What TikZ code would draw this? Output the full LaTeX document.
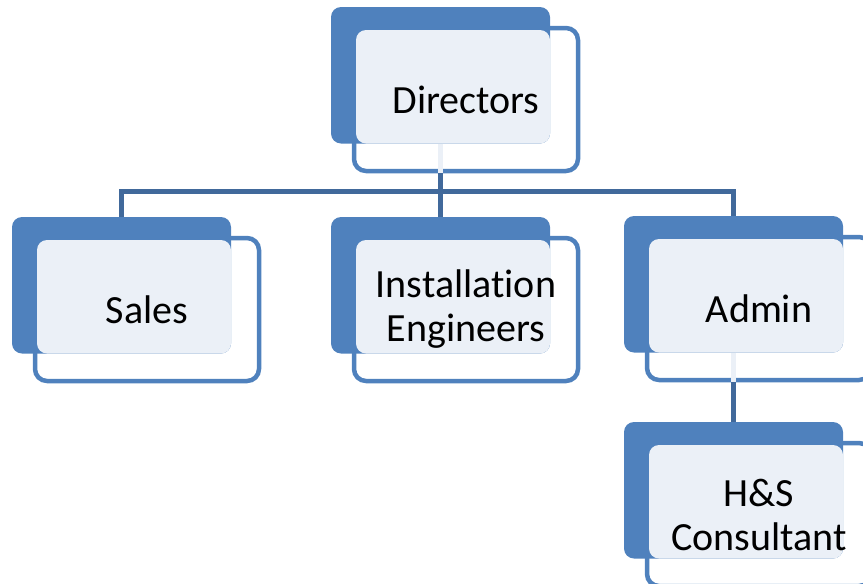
\documentclass[tikz,border=0pt]{standalone}
\usepackage{fontspec}
\setmainfont[RawFeature=-liga]{Carlito}
\usepackage{tikz}
\usetikzlibrary{positioning}
\definecolor{boxblue}{HTML}{4F81BD}
\definecolor{boxlight}{HTML}{EBF0F7}
\definecolor{linkblue}{HTML}{41699B}

\begin{document}
\begin{tikzpicture}[x=1pt, y=-1pt,
    frontbox/.style={draw=boxblue, line width=4.5pt, fill=white, rounded corners=12pt, minimum width=224pt, minimum height=143pt, inner sep=0pt},
    backbox/.style={fill=boxblue, rounded corners=10pt, minimum width=219pt, minimum height=136.5pt, inner sep=0pt},
    boxtext/.style={align=center, font=\fontsize{40}{44}\selectfont, text=black},
    link/.style={draw=linkblue, line width=5pt},
    stub/.style={draw=boxlight, line width=5pt}]
    \useasboundingbox (0,0) rectangle (863,584);
    \clip (0,0) rectangle (863,584);
    \coordinate (bar) at (0,191);
    \foreach \n/\x/\y/\t in {Directors/466/99.5/Directors, Sales/147/309.5/Sales, Install/466/309.5/{Installation\\Engineers}, Admin/759/308.5/Admin, HS/759/514.5/{H\&S\\Consultant}} {
        \node[frontbox] (\n) at (\x,\y) {};
        \node[backbox] (\n-back) at (\x-25.5,\y-24.25) {};
        \fill[boxlight, rounded corners=10pt] (\x-110,\y-69.5) rectangle (\x+84,\y+44);
        \node[boxtext] (\n-t) at (\x,\y) {\t};
    }
    % links between the levels
    \draw[stub] (Directors-back.south) -- (Directors-back.south |- Directors.south);
    \draw[link] (Directors-back.south |- Directors.south) -- (Directors-back.south |- bar);
    \draw[link] (Sales-back.north) |- (Admin-back.north |- bar) -- (Admin-back.north);
    \draw[link] (Install-back.north) -- (Install-back.north |- bar);
    \draw[stub] (Admin-back.south) -- (Admin-back.south |- Admin.south);
    \draw[link] (Admin-back.south |- Admin.south) -- (HS-back.north);
\end{tikzpicture}
\end{document}
